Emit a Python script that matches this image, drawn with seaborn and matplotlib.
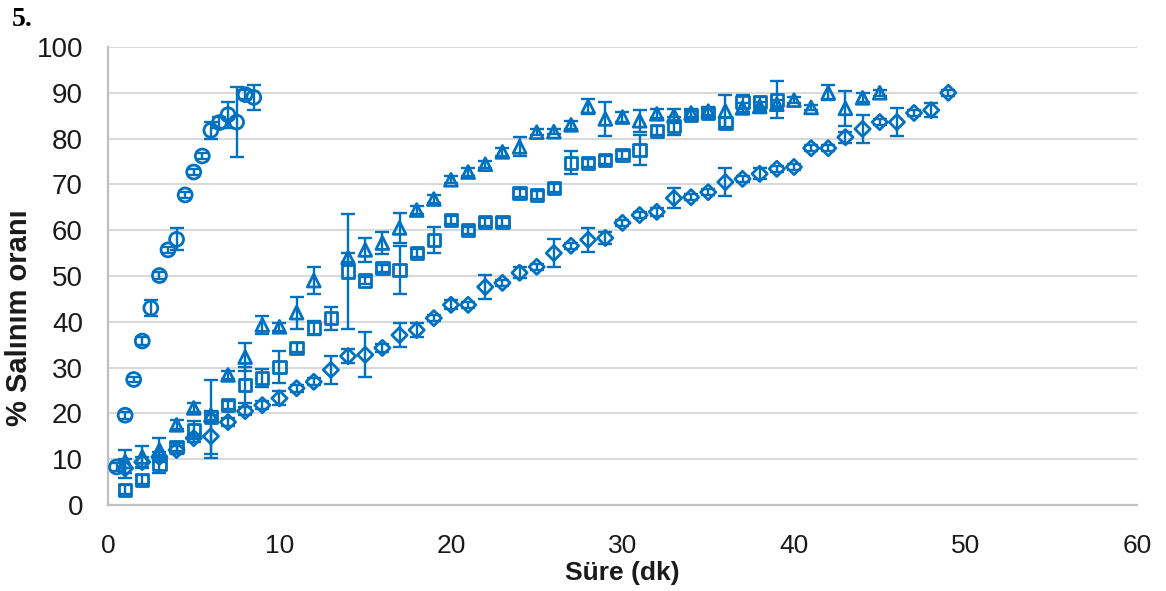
import numpy as np
import pandas as pd
import matplotlib
matplotlib.use("Agg")
import matplotlib.pyplot as plt
import seaborn as sns

# Release profiles (% released vs time in minutes), mean and error per point
t_circle = [0.5, 1, 1.5, 2, 2.5, 3, 3.5, 4, 4.5, 5, 5.5, 6, 6.5, 7, 7.5, 8, 8.5]
circle = [8.3, 19.6, 27.4, 35.8, 43.0, 50.1, 55.7, 58.0, 67.7, 72.7, 76.2,
          81.8, 83.5, 85.2, 83.6, 89.6, 89.0]
circle_err = [0.8, 0.8, 0.6, 0.8, 1.8, 0.7, 0.7, 2.4, 0.6, 0.6, 0.6, 1.8,
              1.2, 2.8, 7.6, 1.0, 2.7]

t_tri = list(range(1, 13)) + list(range(14, 46))
tri = [9.5, 10.5, 12.0, 17.5, 21.2, 19.6, 28.4, 32.3, 39.3, 38.9, 42.0, 49.0,
       54.0, 55.7, 57.2, 60.5, 64.4, 66.8, 71.0, 72.7, 74.4, 77.1, 78.2, 81.4,
       81.5, 83.0, 87.0, 84.3, 84.7, 83.9, 85.4, 85.0, 85.6, 86.0, 86.0, 86.7,
       87.0, 87.5, 88.4, 86.8, 90.0, 86.6, 88.9, 90.0]
tri_err = [2.5, 2.4, 2.6, 1.0, 1.0, 1.0, 0.8, 3.0, 2.0, 0.8, 3.5, 3.0,
           1.0, 2.6, 2.3, 3.2, 0.8, 0.8, 0.8, 0.8, 0.8, 0.8, 2.1, 0.6,
           0.6, 0.8, 1.6, 3.7, 1.0, 2.4, 1.0, 1.5, 0.8, 0.8, 3.5, 1.0,
           1.0, 1.0, 0.6, 0.6, 1.6, 3.8, 1.0, 0.6]

t_sq = list(range(1, 40))
sq = [3.3, 5.5, 9.0, 12.7, 16.4, 19.2, 21.8, 26.2, 27.7, 30.1, 34.3, 38.6,
      40.8, 51.0, 49.0, 51.7, 51.3, 55.0, 57.9, 62.2, 60.0, 61.8, 61.8, 68.1,
      67.7, 69.2, 74.7, 74.7, 75.3, 76.4, 77.5, 81.7, 82.8, 85.2, 85.6, 83.4,
      88.0, 88.0, 88.5]
sq_err = [1.0, 1.0, 2.0, 0.8, 2.0, 8.0, 0.8, 4.0, 2.0, 3.5, 1.0, 1.5,
          2.5, 12.5, 0.8, 0.8, 5.2, 0.8, 2.8, 0.8, 0.8, 0.8, 0.8, 0.8,
          0.8, 0.8, 2.5, 0.8, 0.8, 0.8, 3.2, 1.0, 2.0, 0.8, 0.8, 1.0,
          1.6, 1.0, 4.0]

t_dia = list(range(1, 50))
dia = [8.0, 9.4, 10.5, 12.0, 14.6, 15.0, 18.1, 20.5, 21.8, 23.3,
       25.5, 26.9, 29.5, 32.5, 32.8, 34.3, 37.1, 38.2, 40.8, 43.7,
       43.7, 47.6, 48.5, 50.7, 52.0, 55.0, 56.6, 57.9, 58.3, 61.6,
       63.3, 64.0, 67.0, 67.2, 68.3, 70.5, 71.2, 72.3, 73.4, 73.8,
       77.9, 77.9, 80.3, 82.1, 83.6, 83.6, 85.6, 86.2, 90.0]
dia_err = [2.0, 1.0, 1.0, 0.8, 0.8, 4.7, 0.8, 0.8, 0.8, 1.5,
           0.8, 0.8, 3.0, 1.5, 4.9, 0.8, 2.6, 1.5, 0.6, 1.0,
           0.6, 2.6, 0.6, 1.2, 0.6, 3.0, 0.6, 2.6, 1.3, 0.6,
           0.6, 0.8, 2.2, 0.6, 0.6, 3.0, 0.6, 1.2, 0.6, 0.6,
           0.6, 0.6, 1.2, 3.0, 0.6, 3.0, 0.6, 1.5, 0.6]

x_ticks = [0, 10, 20, 30, 40, 50, 60]
y_ticks = [0, 10, 20, 30, 40, 50, 60, 70, 80, 90, 100]

BLUE = "#0070C0"

sns.set_theme(style="whitegrid")
plt.rcParams["font.family"] = ["Liberation Sans", "DejaVu Sans"]

fig = plt.figure(figsize=(11.66, 5.91), dpi=100)
ax = fig.add_axes([0.0926, 0.1455, 0.8825, 0.775])

series = [
    (t_circle, circle, circle_err, "o", 100),
    (t_tri, tri, tri_err, "^", 85),
    (t_sq, sq, sq_err, "s", 78),
    (t_dia, dia, dia_err, "D", 60),
]

for t, v, e, m, s in series:
    ax.errorbar(t, v, yerr=e, fmt="none", ecolor=BLUE, elinewidth=1.7,
                capsize=5, capthick=1.7, zorder=2)
    df = pd.DataFrame({"t": t, "v": v})
    sns.scatterplot(data=df, x="t", y="v", marker=m, s=s, ax=ax,
                    color=BLUE, facecolor="none", edgecolor=BLUE,
                    linewidth=2.0, legend=False, zorder=3)

ax.set_xlim(0, 60)
ax.set_ylim(0, 100)
ax.set_xticks(x_ticks)
ax.set_yticks(y_ticks)
ax.xaxis.grid(False)
ax.yaxis.grid(True, color="#D9D9D9", linewidth=1.5)
ax.set_axisbelow(True)

for side in ["top", "right"]:
    ax.spines[side].set_visible(False)
for side in ["left", "bottom"]:
    ax.spines[side].set_visible(True)
    ax.spines[side].set_color("#BFBFBF")
    ax.spines[side].set_linewidth(1.6)

ax.tick_params(axis="y", length=0, pad=18, labelsize=20, labelcolor="#1a1a1a")
ax.tick_params(axis="x", length=0, pad=21, labelsize=19, labelcolor="#1a1a1a")

ax.set_xlabel("Süre (dk)", fontsize=19, fontweight="bold", color="#1a1a1a",
              labelpad=2)
ax.set_ylabel("% Salınım oranı", fontsize=21, fontweight="bold",
              color="#1a1a1a")
ax.yaxis.set_label_coords(-0.073, 0.41)

fig.text(0.010, 0.988, "5.", family=["Liberation Serif", "DejaVu Serif"],
         fontsize=20, fontweight="bold", va="top", ha="left", color="black")

fig.savefig("out.png", dpi=100)
